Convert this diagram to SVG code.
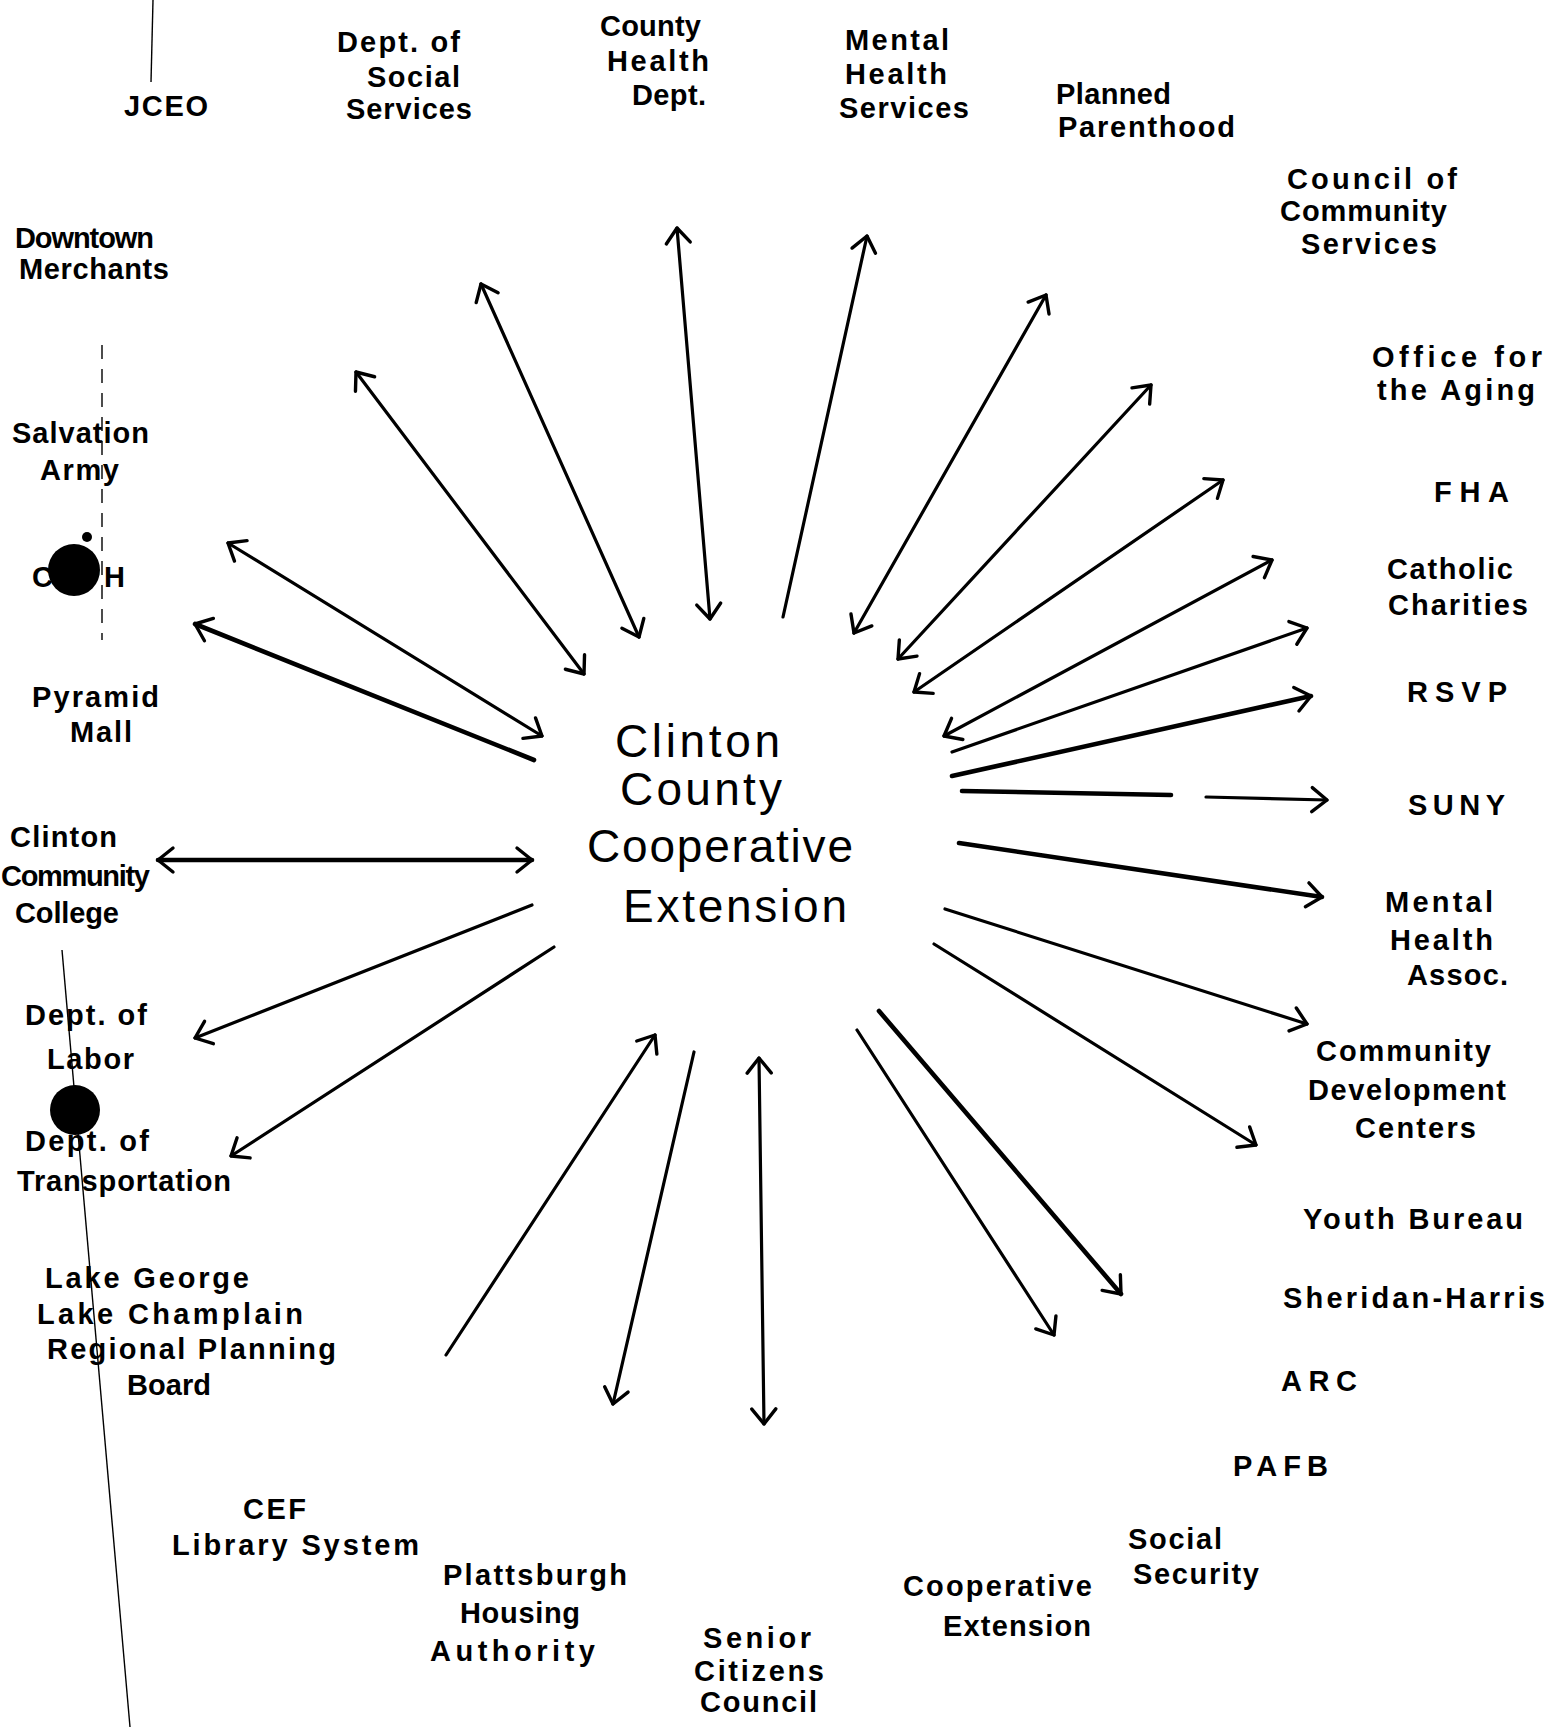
<svg xmlns="http://www.w3.org/2000/svg" width="1554" height="1727" viewBox="0 0 1554 1727">
  <defs>
    <!-- open V arrowhead, drawn in user units so it keeps its size on thick lines -->
    <marker id="ah" viewBox="-20 -16 24 32" refX="0" refY="0" markerWidth="24" markerHeight="32" markerUnits="userSpaceOnUse" orient="auto-start-reverse">
      <path d="M-15,-12 L0,0 L-15,12" fill="none" stroke="#000" stroke-width="3.4" stroke-linecap="round" stroke-linejoin="round"/>
    </marker>
  </defs>
  <style>
    .lbl { font-family: "Liberation Sans", Arial, sans-serif; font-weight: bold; font-size: 29px; fill: #000; }
    .hub { font-family: "Liberation Sans", Arial, sans-serif; font-size: 46px; fill: #000; }
    .ln { stroke: #000; stroke-width: 3.2; fill: none; stroke-linecap: round; }
    .thick { stroke-width: 4.6; }
    .edge { stroke: #000; stroke-width: 1.4; fill: none; }
  </style>

  <rect width="1554" height="1727" fill="#fff"/>

  <!-- page edge marks -->
  <g id="page-marks">
    <line class="edge" x1="153" y1="0" x2="151" y2="82"/>
    <line class="edge" x1="62" y1="950" x2="130" y2="1727"/>
    <line class="edge" x1="102" y1="345" x2="102" y2="640" stroke-dasharray="14 10" stroke-width="1"/>
    <circle cx="87" cy="537" r="5" fill="#000"/>
  </g>

  <!-- connectors radiating from the hub -->
  <g id="connectors">
    <line class="ln" x1="584" y1="674" x2="356" y2="372" marker-start="url(#ah)" marker-end="url(#ah)"/>
    <line class="ln" x1="639" y1="637" x2="481" y2="284" marker-start="url(#ah)" marker-end="url(#ah)"/>
    <line class="ln" x1="710" y1="619" x2="677" y2="228" marker-start="url(#ah)" marker-end="url(#ah)"/>
    <line class="ln" x1="783" y1="617" x2="867" y2="236" marker-end="url(#ah)"/>
    <line class="ln" x1="854" y1="633" x2="1046" y2="295" marker-start="url(#ah)" marker-end="url(#ah)"/>
    <line class="ln" x1="898" y1="659" x2="1151" y2="385" marker-start="url(#ah)" marker-end="url(#ah)"/>
    <line class="ln" x1="914" y1="692" x2="1223" y2="480" marker-start="url(#ah)" marker-end="url(#ah)"/>
    <line class="ln" x1="944" y1="736" x2="1272" y2="560" marker-start="url(#ah)" marker-end="url(#ah)"/>
    <line class="ln" x1="952" y1="752" x2="1307" y2="628" marker-end="url(#ah)"/>
    <line class="ln thick" x1="952" y1="776" x2="1311" y2="696" marker-end="url(#ah)"/>
    <line class="ln thick" x1="962" y1="791" x2="1171" y2="795"/>
    <line class="ln" x1="1206" y1="797" x2="1327" y2="800" marker-end="url(#ah)"/>
    <line class="ln thick" x1="959" y1="843" x2="1322" y2="897" marker-end="url(#ah)"/>
    <line class="ln" x1="945" y1="909" x2="1307" y2="1024" marker-end="url(#ah)"/>
    <line class="ln" x1="934" y1="944" x2="1256" y2="1145" marker-end="url(#ah)"/>
    <line class="ln thick" x1="879" y1="1011" x2="1121" y2="1294" marker-end="url(#ah)"/>
    <line class="ln" x1="857" y1="1030" x2="1054" y2="1335" marker-end="url(#ah)"/>
    <line class="ln" x1="759" y1="1058" x2="764" y2="1424" marker-start="url(#ah)" marker-end="url(#ah)"/>
    <line class="ln" x1="694" y1="1052" x2="613" y2="1404" marker-end="url(#ah)"/>
    <line class="ln" x1="446" y1="1355" x2="655" y2="1035" marker-end="url(#ah)"/>
    <line class="ln" x1="554" y1="947" x2="231" y2="1156" marker-end="url(#ah)"/>
    <line class="ln" x1="532" y1="905" x2="195" y2="1038" marker-end="url(#ah)"/>
    <line class="ln thick" x1="532" y1="860" x2="158" y2="860" marker-start="url(#ah)" marker-end="url(#ah)"/>
    <line class="ln thick" x1="534" y1="760" x2="195" y2="624" marker-end="url(#ah)"/>
    <line class="ln" x1="542" y1="736" x2="228" y2="543" marker-start="url(#ah)" marker-end="url(#ah)"/>
  </g>

  <!-- hub -->
  <g id="hub">
    <text class="hub" x="615" y="757" textLength="165" lengthAdjust="spacing">Clinton</text>
    <text class="hub" x="620" y="805" textLength="162" lengthAdjust="spacing">County</text>
    <text class="hub" x="587" y="862" textLength="266" lengthAdjust="spacing">Cooperative</text>
    <text class="hub" x="623" y="922" textLength="224" lengthAdjust="spacing">Extension</text>
  </g>

  <!-- agencies, clockwise from top left -->
  <g id="jceo"><text class="lbl" x="124" y="116" textLength="84" lengthAdjust="spacing">JCEO</text></g>
  <g id="dss">
    <text class="lbl" x="337" y="52" textLength="123" lengthAdjust="spacing">Dept. of</text>
    <text class="lbl" x="367" y="87" textLength="93" lengthAdjust="spacing">Social</text>
    <text class="lbl" x="346" y="119" textLength="126" lengthAdjust="spacing">Services</text>
  </g>
  <g id="county-health">
    <text class="lbl" x="600" y="36" textLength="101" lengthAdjust="spacing">County</text>
    <text class="lbl" x="607" y="71" textLength="102" lengthAdjust="spacing">Health</text>
    <text class="lbl" x="632" y="105" textLength="74" lengthAdjust="spacing">Dept.</text>
  </g>
  <g id="mental-health-services">
    <text class="lbl" x="845" y="50" textLength="104" lengthAdjust="spacing">Mental</text>
    <text class="lbl" x="845" y="84" textLength="102" lengthAdjust="spacing">Health</text>
    <text class="lbl" x="839" y="118" textLength="130" lengthAdjust="spacing">Services</text>
  </g>
  <g id="planned-parenthood">
    <text class="lbl" x="1056" y="104" textLength="115" lengthAdjust="spacing">Planned</text>
    <text class="lbl" x="1058" y="137" textLength="177" lengthAdjust="spacing">Parenthood</text>
  </g>
  <g id="council">
    <text class="lbl" x="1287" y="189" textLength="170" lengthAdjust="spacing">Council of</text>
    <text class="lbl" x="1280" y="221" textLength="167" lengthAdjust="spacing">Community</text>
    <text class="lbl" x="1301" y="254" textLength="136" lengthAdjust="spacing">Services</text>
  </g>
  <g id="aging">
    <text class="lbl" x="1372" y="367" textLength="170" lengthAdjust="spacing">Office for</text>
    <text class="lbl" x="1377" y="400" textLength="158" lengthAdjust="spacing">the Aging</text>
  </g>
  <g id="fha"><text class="lbl" x="1434" y="502" textLength="75" lengthAdjust="spacing">FHA</text></g>
  <g id="catholic-charities">
    <text class="lbl" x="1387" y="579" textLength="126" lengthAdjust="spacing">Catholic</text>
    <text class="lbl" x="1388" y="615" textLength="140" lengthAdjust="spacing">Charities</text>
  </g>
  <g id="rsvp"><text class="lbl" x="1407" y="702" textLength="100" lengthAdjust="spacing">RSVP</text></g>
  <g id="suny"><text class="lbl" x="1408" y="815" textLength="97" lengthAdjust="spacing">SUNY</text></g>
  <g id="mental-health-assoc">
    <text class="lbl" x="1385" y="912" textLength="108" lengthAdjust="spacing">Mental</text>
    <text class="lbl" x="1390" y="950" textLength="103" lengthAdjust="spacing">Health</text>
    <text class="lbl" x="1407" y="985" textLength="101" lengthAdjust="spacing">Assoc.</text>
  </g>
  <g id="cdc">
    <text class="lbl" x="1316" y="1061" textLength="175" lengthAdjust="spacing">Community</text>
    <text class="lbl" x="1308" y="1100" textLength="198" lengthAdjust="spacing">Development</text>
    <text class="lbl" x="1355" y="1138" textLength="121" lengthAdjust="spacing">Centers</text>
  </g>
  <g id="youth-bureau"><text class="lbl" x="1303" y="1229" textLength="220" lengthAdjust="spacing">Youth Bureau</text></g>
  <g id="sheridan-harris"><text class="lbl" x="1283" y="1308" textLength="262" lengthAdjust="spacing">Sheridan-Harris</text></g>
  <g id="arc"><text class="lbl" x="1281" y="1391" textLength="76" lengthAdjust="spacing">ARC</text></g>
  <g id="pafb"><text class="lbl" x="1233" y="1476" textLength="95" lengthAdjust="spacing">PAFB</text></g>
  <g id="social-security">
    <text class="lbl" x="1128" y="1549" textLength="94" lengthAdjust="spacing">Social</text>
    <text class="lbl" x="1133" y="1584" textLength="126" lengthAdjust="spacing">Security</text>
  </g>
  <g id="coop-extension">
    <text class="lbl" x="903" y="1596" textLength="189" lengthAdjust="spacing">Cooperative</text>
    <text class="lbl" x="943" y="1636" textLength="148" lengthAdjust="spacing">Extension</text>
  </g>
  <g id="senior-citizens">
    <text class="lbl" x="703" y="1648" textLength="108" lengthAdjust="spacing">Senior</text>
    <text class="lbl" x="694" y="1681" textLength="130" lengthAdjust="spacing">Citizens</text>
    <text class="lbl" x="700" y="1712" textLength="117" lengthAdjust="spacing">Council</text>
  </g>
  <g id="housing">
    <text class="lbl" x="443" y="1585" textLength="184" lengthAdjust="spacing">Plattsburgh</text>
    <text class="lbl" x="460" y="1623" textLength="120" lengthAdjust="spacing">Housing</text>
    <text class="lbl" x="430" y="1661" textLength="165" lengthAdjust="spacing">Authority</text>
  </g>
  <g id="cef-library">
    <text class="lbl" x="243" y="1519" textLength="63" lengthAdjust="spacing">CEF</text>
    <text class="lbl" x="172" y="1555" textLength="247" lengthAdjust="spacing">Library System</text>
  </g>
  <g id="regional-planning">
    <text class="lbl" x="45" y="1288" textLength="204" lengthAdjust="spacing">Lake George</text>
    <text class="lbl" x="37" y="1324" textLength="266" lengthAdjust="spacing">Lake Champlain</text>
    <text class="lbl" x="47" y="1359" textLength="289" lengthAdjust="spacing">Regional Planning</text>
    <text class="lbl" x="127" y="1395" textLength="84" lengthAdjust="spacing">Board</text>
  </g>
  <g id="transportation">
    <text class="lbl" x="25" y="1151" textLength="124" lengthAdjust="spacing">Dept. of</text>
    <text class="lbl" x="17" y="1191" textLength="214" lengthAdjust="spacing">Transportation</text>
  </g>
  <g id="labor">
    <text class="lbl" x="25" y="1025" textLength="122" lengthAdjust="spacing">Dept. of</text>
    <text class="lbl" x="47" y="1069" textLength="87" lengthAdjust="spacing">Labor</text>
  </g>
  <g id="ccc">
    <text class="lbl" x="10" y="847" textLength="107" lengthAdjust="spacing">Clinton</text>
    <text class="lbl" x="1" y="886" textLength="149" lengthAdjust="spacing">Community</text>
    <text class="lbl" x="15" y="923" textLength="104" lengthAdjust="spacing">College</text>
  </g>
  <g id="pyramid-mall">
    <text class="lbl" x="32" y="707" textLength="127" lengthAdjust="spacing">Pyramid</text>
    <text class="lbl" x="70" y="742" textLength="62" lengthAdjust="spacing">Mall</text>
  </g>
  <g id="cvph"><text class="lbl" x="32" y="587" textLength="93" lengthAdjust="spacing">CVPH</text></g>
  <g id="salvation-army">
    <text class="lbl" x="12" y="443" textLength="137" lengthAdjust="spacing">Salvation</text>
    <text class="lbl" x="40" y="480" textLength="79" lengthAdjust="spacing">Army</text>
  </g>
  <g id="downtown-merchants">
    <text class="lbl" x="15" y="248" textLength="139" lengthAdjust="spacing">Downtown</text>
    <text class="lbl" x="19" y="279" textLength="150" lengthAdjust="spacing">Merchants</text>
  </g>

  <!-- ink blots drawn over the lettering -->
  <g id="blots">
    <circle cx="74" cy="570" r="26" fill="#000"/>
    <circle cx="75" cy="1110" r="25" fill="#000"/>
  </g>
</svg>
